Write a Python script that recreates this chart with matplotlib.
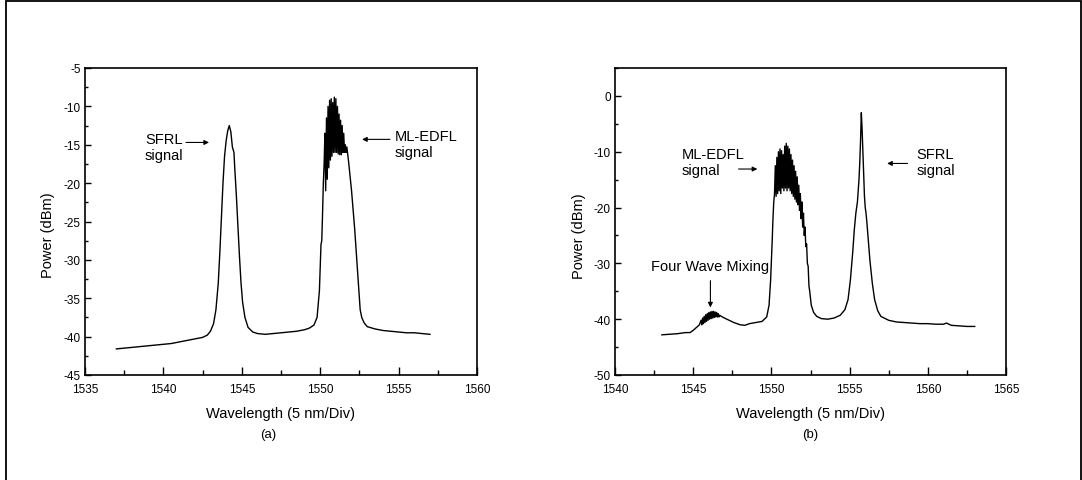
import matplotlib
matplotlib.use('Agg')
import matplotlib.pyplot as plt
from matplotlib.ticker import MultipleLocator
from matplotlib.patches import Rectangle

plt.rcParams['font.family'] = ['Liberation Sans', 'DejaVu Sans']
plt.rcParams['axes.unicode_minus'] = False

# (a) spectrum: SFRL line plus mode-locked EDFL comb
wl_a = [1537.0, 1537.5, 1538.0, 1538.5, 1539.0, 1539.5, 1540.0, 1540.5, 1541.0, 1541.5,
        1542.0, 1542.5, 1542.8, 1543.0, 1543.2, 1543.35, 1543.5, 1543.6, 1543.7, 1543.8,
        1543.9, 1544.0, 1544.1, 1544.2, 1544.3, 1544.4, 1544.5, 1544.55, 1544.65, 1544.75,
        1544.85, 1544.95, 1545.05, 1545.2, 1545.4, 1545.7, 1546.0, 1546.5, 1547.0, 1547.5,
        1548.0, 1548.5, 1549.0, 1549.3, 1549.6, 1549.8, 1549.95, 1550.0, 1550.05, 1550.1,
        1550.15, 1550.2, 1550.25,
        1550.30, 1550.35, 1550.40, 1550.45, 1550.50, 1550.55, 1550.60, 1550.65, 1550.70, 1550.75,
        1550.80, 1550.85, 1550.90, 1550.95, 1551.00, 1551.05, 1551.10, 1551.15, 1551.20, 1551.25,
        1551.30, 1551.35, 1551.40, 1551.45, 1551.50, 1551.55, 1551.60, 1551.65, 1551.70,
        1551.80, 1551.90, 1552.00, 1552.10, 1552.20, 1552.30, 1552.40, 1552.50, 1552.55, 1552.65,
        1552.80, 1553.0, 1553.5, 1554.0, 1554.5, 1555.0, 1555.5, 1556.0, 1556.5, 1557.0]
pw_a = [-41.6, -41.5, -41.4, -41.3, -41.2, -41.1, -41.0, -40.9, -40.7, -40.5,
        -40.3, -40.1, -39.8, -39.3, -38.3, -36.5, -33.0, -29.0, -24.5, -20.0,
        -16.5, -14.5, -13.2, -12.5, -13.3, -15.3, -16.0, -18.0, -21.5, -25.5,
        -29.5, -33.0, -35.5, -37.5, -38.8, -39.4, -39.6, -39.7, -39.6, -39.5,
        -39.4, -39.3, -39.1, -38.9, -38.5, -37.5, -34.0, -31.0, -28.0, -27.5,
        -24.0, -20.0, -17.5,
        -13.5, -21.0, -11.5, -19.5, -10.0, -18.0, -9.2, -17.0, -9.0, -16.5,
        -9.5, -16.0, -8.8, -16.0, -9.0, -16.0, -10.0, -16.2, -11.0, -16.3,
        -11.8, -16.3, -12.5, -16.0, -13.5, -16.0, -15.0, -16.0, -15.3,
        -17.0, -19.0, -21.0, -23.5, -26.0, -29.0, -32.0, -35.0, -36.5, -37.5,
        -38.2, -38.7, -39.0, -39.2, -39.3, -39.4, -39.5, -39.5, -39.6, -39.7]

# (b) spectrum: four wave mixing, ML-EDFL comb, SFRL line
wl_b = [1543.0, 1543.5, 1544.0, 1544.5, 1544.8, 1545.0, 1545.2, 1545.4,
        1545.50, 1545.55, 1545.60, 1545.65, 1545.70, 1545.75, 1545.80, 1545.85, 1545.90, 1545.95,
        1546.00, 1546.05, 1546.10, 1546.15, 1546.20, 1546.25, 1546.30, 1546.35, 1546.40, 1546.45,
        1546.50, 1546.55, 1546.60, 1546.65, 1546.70, 1546.80,
        1547.0, 1547.3, 1547.6, 1548.0, 1548.3, 1548.6, 1549.0, 1549.4, 1549.7, 1549.85,
        1549.95, 1550.05, 1550.1, 1550.15, 1550.2,
        1550.25, 1550.30, 1550.35, 1550.40, 1550.45, 1550.50, 1550.55, 1550.60, 1550.65, 1550.70,
        1550.75, 1550.80, 1550.85, 1550.90, 1550.95, 1551.00, 1551.05, 1551.10, 1551.15, 1551.20,
        1551.25, 1551.30, 1551.35, 1551.40, 1551.45, 1551.50, 1551.55, 1551.60, 1551.65, 1551.70,
        1551.75, 1551.80, 1551.85, 1551.90, 1551.95, 1552.00, 1552.05, 1552.10, 1552.15, 1552.20,
        1552.25, 1552.30, 1552.35, 1552.40, 1552.45, 1552.55, 1552.70,
        1552.9, 1553.2, 1553.6, 1554.0, 1554.4, 1554.7, 1554.9, 1555.05, 1555.2, 1555.3,
        1555.4, 1555.5, 1555.6, 1555.65, 1555.7, 1555.75, 1555.8, 1555.85, 1555.9, 1555.95,
        1556.0, 1556.05, 1556.1, 1556.2, 1556.3, 1556.45, 1556.6, 1556.8, 1557.0, 1557.5,
        1558.0, 1558.5, 1559.0, 1559.5, 1560.0, 1560.5, 1561.0, 1561.2, 1561.5, 1562.0,
        1562.5, 1563.0]
pw_b = [-42.8, -42.7, -42.6, -42.4, -42.4, -42.0, -41.5, -41.0,
        -40.2, -41.0, -39.8, -40.8, -39.5, -40.6, -39.2, -40.4, -39.0, -40.2,
        -38.8, -40.0, -38.7, -39.9, -38.6, -39.8, -38.6, -39.7, -38.7, -39.6,
        -38.8, -39.6, -39.0, -39.6, -39.3, -39.5,
        -39.8, -40.2, -40.6, -41.0, -41.1, -40.8, -40.6, -40.4, -39.6, -37.5,
        -33.0, -26.0, -22.0, -19.0, -17.5,
        -12.5, -18.0, -11.0, -17.5, -10.0, -17.0, -9.5, -17.5, -9.8, -16.5,
        -10.5, -17.0, -9.0, -16.5, -8.5, -17.0, -9.0, -16.5, -9.5, -17.0,
        -10.5, -17.5, -11.5, -18.0, -12.5, -18.5, -13.5, -19.0, -14.5, -19.5,
        -16.0, -20.5, -17.5, -22.0, -19.0, -23.5, -21.0, -25.0, -23.5, -27.0,
        -26.5, -30.0, -30.5, -34.0, -35.0, -37.5, -38.8,
        -39.5, -39.9, -40.0, -39.8, -39.3, -38.3, -36.5, -33.0, -28.0, -24.0,
        -21.0, -19.0, -15.0, -12.0, -8.0, -3.0, -6.0, -10.0, -14.0, -18.0,
        -20.0, -21.0, -22.5, -26.0, -29.5, -33.5, -36.5, -38.5, -39.5, -40.2,
        -40.5, -40.6, -40.7, -40.8, -40.8, -40.9, -40.9, -40.7, -41.1, -41.2,
        -41.3, -41.3]

xticks_a = [1535, 1540, 1545, 1550, 1555, 1560]
yticks_a = [-45, -40, -35, -30, -25, -20, -15, -10, -5]
xticks_b = [1540, 1545, 1550, 1555, 1560, 1565]
yticks_b = [-50, -40, -30, -20, -10, 0]

W, H = 1082, 481
fig = plt.figure(figsize=(W / 100, H / 100), dpi=100)

# frame round the whole figure
fig.patches.append(Rectangle((6 / W, -0.05), 1075 / W, 1.05 - 1.5 / H,
                             transform=fig.transFigure, fill=False,
                             edgecolor='black', linewidth=1.3))

ax1 = fig.add_axes([85 / W, 1 - 376 / H, 392 / W, 307 / H])
ax2 = fig.add_axes([615 / W, 1 - 376 / H, 391 / W, 307 / H])


def style_axis(ax, xticks, yticks, xminor, yminor):
    ax.set_xlim(xticks[0], xticks[-1])
    ax.set_xticks(xticks)
    ax.set_yticks(yticks)
    ax.xaxis.set_minor_locator(MultipleLocator(xminor))
    ax.yaxis.set_minor_locator(MultipleLocator(yminor))
    ax.tick_params(which='both', direction='in', top=False, right=False, labelsize=8.5)
    ax.tick_params(axis='x', which='major', length=6, width=1, pad=5.5)
    ax.tick_params(axis='x', which='minor', length=3.5, width=1)
    ax.tick_params(axis='y', which='major', length=4, width=1, pad=3)
    ax.tick_params(axis='y', which='minor', length=2.5, width=1)
    for s in ax.spines.values():
        s.set_linewidth(1.2)
    ax.set_xlabel('Wavelength (5 nm/Div)', fontsize=10.5, labelpad=8)
    ax.set_ylabel('Power (dBm)', fontsize=10.5)


arrow = dict(arrowstyle='-|>', color='black', lw=0.8, mutation_scale=7,
             shrinkA=0, shrinkB=0)

# panel (a)
ax1.plot(wl_a, pw_a, color='black', lw=1.0)
style_axis(ax1, xticks_a, yticks_a, 2.5, 2.5)
ax1.set_ylim(-45, -5)
ax1.yaxis.set_label_coords(-0.077, 0.46)
ax1.text(1538.83, -15.25, 'SFRL\nsignal', fontsize=10.5, ha='left', va='center')
ax1.annotate('', xy=(1542.91, -14.7), xytext=(1541.44, -14.7), arrowprops=arrow)
ax1.text(1554.77, -14.94, 'ML-EDFL\nsignal', fontsize=10.5, ha='left', va='center')
ax1.annotate('', xy=(1552.67, -14.3), xytext=(1554.45, -14.3), arrowprops=arrow)
ax1.text(0.468, -0.192, '(a)', transform=ax1.transAxes, fontsize=9.5,
         ha='center', va='center')

# panel (b)
ax2.plot(wl_b, pw_b, color='black', lw=1.0)
style_axis(ax2, xticks_b, yticks_b, 2.5, 5)
ax2.set_ylim(-50, 5)
ax2.yaxis.set_label_coords(-0.074, 0.455)
ax2.text(1544.28, -11.8, 'ML-EDFL\nsignal', fontsize=10.5, ha='left', va='center')
ax2.annotate('', xy=(1549.1, -13.1), xytext=(1547.9, -13.1), arrowprops=arrow)
ax2.text(1559.25, -11.8, 'SFRL\nsignal', fontsize=10.5, ha='left', va='center')
ax2.annotate('', xy=(1557.4, -12.1), xytext=(1558.7, -12.1), arrowprops=arrow)
ax2.text(1542.3, -30.4, 'Four Wave Mixing', fontsize=10.5, ha='left', va='center')
ax2.annotate('', xy=(1546.1, -37.9), xytext=(1546.1, -33.1), arrowprops=arrow)
ax2.text(0.498, -0.192, '(b)', transform=ax2.transAxes, fontsize=9.5,
         ha='center', va='center')

fig.savefig('out.png', dpi=100)
